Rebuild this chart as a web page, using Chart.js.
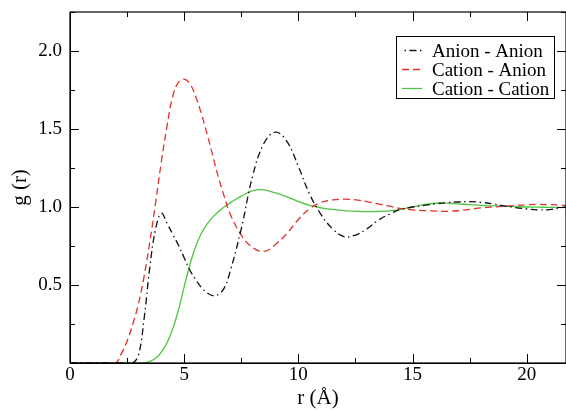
<!DOCTYPE html>
<html>
<head>
<meta charset="utf-8">
<script src="https://cdn.jsdelivr.net/npm/chart.js@4.4.1/dist/chart.umd.min.js"></script>
<style>
  html, body { margin: 0; padding: 0; background: #ffffff; }
  #wrap { width: 566px; height: 411px; }
</style>
</head>
<body>
<div id="wrap"><canvas id="c" width="566" height="411"></canvas></div>
<script>
// r in Å
const rValues = [0, 0.5, 1, 1.5, 2, 2.25, 2.5, 2.75, 3, 3.25, 3.5, 3.75, 4, 4.25, 4.5, 4.75, 5, 5.25, 5.5, 5.75, 6, 6.25, 6.5, 6.75, 7,
  7.5, 8, 8.5, 9, 9.5, 10, 10.5, 11, 11.5, 12, 12.5, 13, 13.5, 14, 14.5, 15, 15.5, 16, 16.5, 17, 17.5, 18, 18.5, 19, 19.5, 20, 20.5, 21, 21.5, 21.72];

const anionAnion = [0, 0, 0, 0, 0, 0, 0, 0, 0.05, 0.29, 0.62, 0.86, 0.96, 0.895, 0.825, 0.755, 0.675, 0.595, 0.535, 0.485, 0.45, 0.432, 0.44, 0.48, 0.58,
  0.86, 1.2, 1.41, 1.48, 1.42, 1.26, 1.08, 0.95, 0.86, 0.81, 0.82, 0.86, 0.915, 0.955, 0.985, 1.0, 1.01, 1.02, 1.028, 1.032, 1.034, 1.03, 1.02, 1.007, 0.996, 0.988, 0.982, 0.983, 0.995, 1.0];

const cationAnion = [0, 0, 0, 0, 0.0, 0.06, 0.14, 0.25, 0.38, 0.56, 0.78, 1.03, 1.29, 1.52, 1.71, 1.80, 1.82, 1.79, 1.71, 1.60, 1.47, 1.33, 1.19, 1.07, 0.96,
  0.82, 0.74, 0.715, 0.76, 0.83, 0.92, 0.99, 1.03, 1.045, 1.05, 1.046, 1.035, 1.02, 1.005, 0.99, 0.982, 0.977, 0.974, 0.972, 0.976, 0.985, 0.994, 1.0, 1.005, 1.01, 1.015, 1.017, 1.015, 1.012, 1.01];

const cationCation = [0, 0, 0, 0, 0, 0, 0, 0, 0, 0.0, 0.01, 0.03, 0.07, 0.13, 0.22, 0.34, 0.49, 0.63, 0.745, 0.83, 0.89, 0.935, 0.97, 1.0, 1.025,
  1.07, 1.105, 1.11, 1.09, 1.065, 1.035, 1.01, 0.995, 0.985, 0.977, 0.973, 0.97, 0.971, 0.975, 0.985, 1.0, 1.015, 1.024, 1.025, 1.02, 1.015, 1.01, 1.007, 1.005, 1.003, 1.0, 0.999, 0.998, 0.998, 0.998];

const seriesLabels = ['Anion - Anion', 'Cation - Anion', 'Cation - Cation'];
const xTickValues = [0, 5, 10, 15, 20];
const yTickLabels = ['0.5', '1.0', '1.5', '2.0'];
const xTitle = 'r (Å)';
const yTitle = 'g (r)';

const FONT = '"Liberation Serif", "Times New Roman", "DejaVu Serif", serif';

function pts(arr) { return rValues.map((r, i) => ({ x: r, y: arr[i] })); }

const framePlugin = {
  id: 'frameTicks',
  afterDatasetsDraw(chart) {
    const ctx = chart.ctx;
    const a = chart.chartArea;
    const xs = chart.scales.x, ys = chart.scales.y;
    ctx.save();
    ctx.strokeStyle = '#000';
    ctx.lineWidth = 1.2;
    ctx.setLineDash([]);
    ctx.strokeRect(a.left, a.top, a.right - a.left, a.bottom - a.top);
    ctx.lineWidth = 1;
    ctx.beginPath();
    for (let v = 0; v <= xs.max + 1e-9; v += 2.5) {
      const px = Math.round(xs.getPixelForValue(v)) + 0.5;
      const len = (Math.abs(v % 5) < 1e-9) ? 9 : 5;
      ctx.moveTo(px, a.bottom); ctx.lineTo(px, a.bottom - len);
      ctx.moveTo(px, a.top); ctx.lineTo(px, a.top + len);
    }
    for (let v = 0; v <= ys.max + 1e-9; v += 0.25) {
      const py = Math.round(ys.getPixelForValue(v)) + 0.5;
      const len = (Math.abs((v * 4) % 2) < 1e-9) ? 9 : 5;
      ctx.moveTo(a.left, py); ctx.lineTo(a.left + len, py);
      ctx.moveTo(a.right, py); ctx.lineTo(a.right - len, py);
    }
    ctx.stroke();
    ctx.restore();
  },
  afterDraw(chart) {
    // legend box
    const ctx = chart.ctx;
    const bx = 396, by = 36.5, bw = 158, bh = 62;
    ctx.save();
    ctx.fillStyle = '#fff';
    ctx.fillRect(bx, by, bw, bh);
    ctx.strokeStyle = '#000';
    ctx.lineWidth = 1;
    ctx.setLineDash([]);
    ctx.strokeRect(bx + 0.5, by, bw, bh);
    ctx.font = '19px ' + FONT;
    ctx.textBaseline = 'alphabetic';
    ctx.fillStyle = '#000';
    chart.data.datasets.forEach((ds, i) => {
      const cy = 50.5 + i * 19;
      ctx.save();
      ctx.strokeStyle = ds.borderColor;
      ctx.lineWidth = ds.borderWidth;
      ctx.setLineDash(ds.borderDash || []);
      ctx.lineDashOffset = ds.legendDashOffset || 0;
      ctx.beginPath();
      ctx.moveTo(402, cy); ctx.lineTo(422, cy);
      ctx.stroke();
      ctx.restore();
      ctx.fillText(ds.label, 432, cy + 6.5);
    });
    ctx.restore();
  }
};

new Chart(document.getElementById('c'), {
  type: 'line',
  data: {
    datasets: [
      { label: seriesLabels[0], data: pts(anionAnion), borderColor: '#111111', borderWidth: 1.3,
        borderDash: [7, 3.5, 1.5, 3.5], legendDashOffset: 8 },
      { label: seriesLabels[1], data: pts(cationAnion), borderColor: '#e3302b', borderWidth: 1.3,
        borderDash: [7, 4] },
      { label: seriesLabels[2], data: pts(cationCation), borderColor: '#4fc63f', borderWidth: 1.3 }
    ]
  },
  options: {
    responsive: false,
    animation: false,
    events: [],
    elements: { point: { radius: 0 }, line: { tension: 0.4, fill: false } },
    layout: { padding: { top: 12, right: 0, left: 0, bottom: 0 } },
    plugins: { legend: { display: false }, tooltip: { enabled: false }, title: { display: false } },
    scales: {
      x: {
        type: 'linear', min: 0, max: 21.72,
        afterFit(s) { s.height = 48; s.paddingLeft = 0; s.paddingRight = 0; },
        grid: { display: true, drawOnChartArea: false, drawTicks: false },
        border: { display: true, color: '#000', width: 1 },
        ticks: {
          stepSize: 5, includeBounds: false, padding: 1, color: '#000', maxRotation: 0,
          font: { family: FONT, size: 19 },
          callback(v) { return xTickValues.includes(v) ? String(v) : ''; }
        },
        title: { display: true, text: xTitle, color: '#000', font: { family: FONT, size: 21 }, padding: { top: 0, bottom: 0 } }
      },
      y: {
        type: 'linear', min: 0, max: 2.25,
        afterFit(s) { s.width = 70; s.paddingTop = 0; s.paddingBottom = 0; },
        grid: { display: true, drawOnChartArea: false, drawTicks: false },
        border: { display: true, color: '#000', width: 1 },
        ticks: {
          stepSize: 0.5, includeBounds: false, padding: 8, color: '#000',
          font: { family: FONT, size: 19 },
          callback(v) { const s = v.toFixed(1); return yTickLabels.includes(s) ? s : ''; }
        },
        title: { display: true, text: yTitle, color: '#000', font: { family: FONT, size: 21 }, padding: { top: 8, bottom: 0 } }
      }
    }
  },
  plugins: [framePlugin]
});
</script>
</body>
</html>
